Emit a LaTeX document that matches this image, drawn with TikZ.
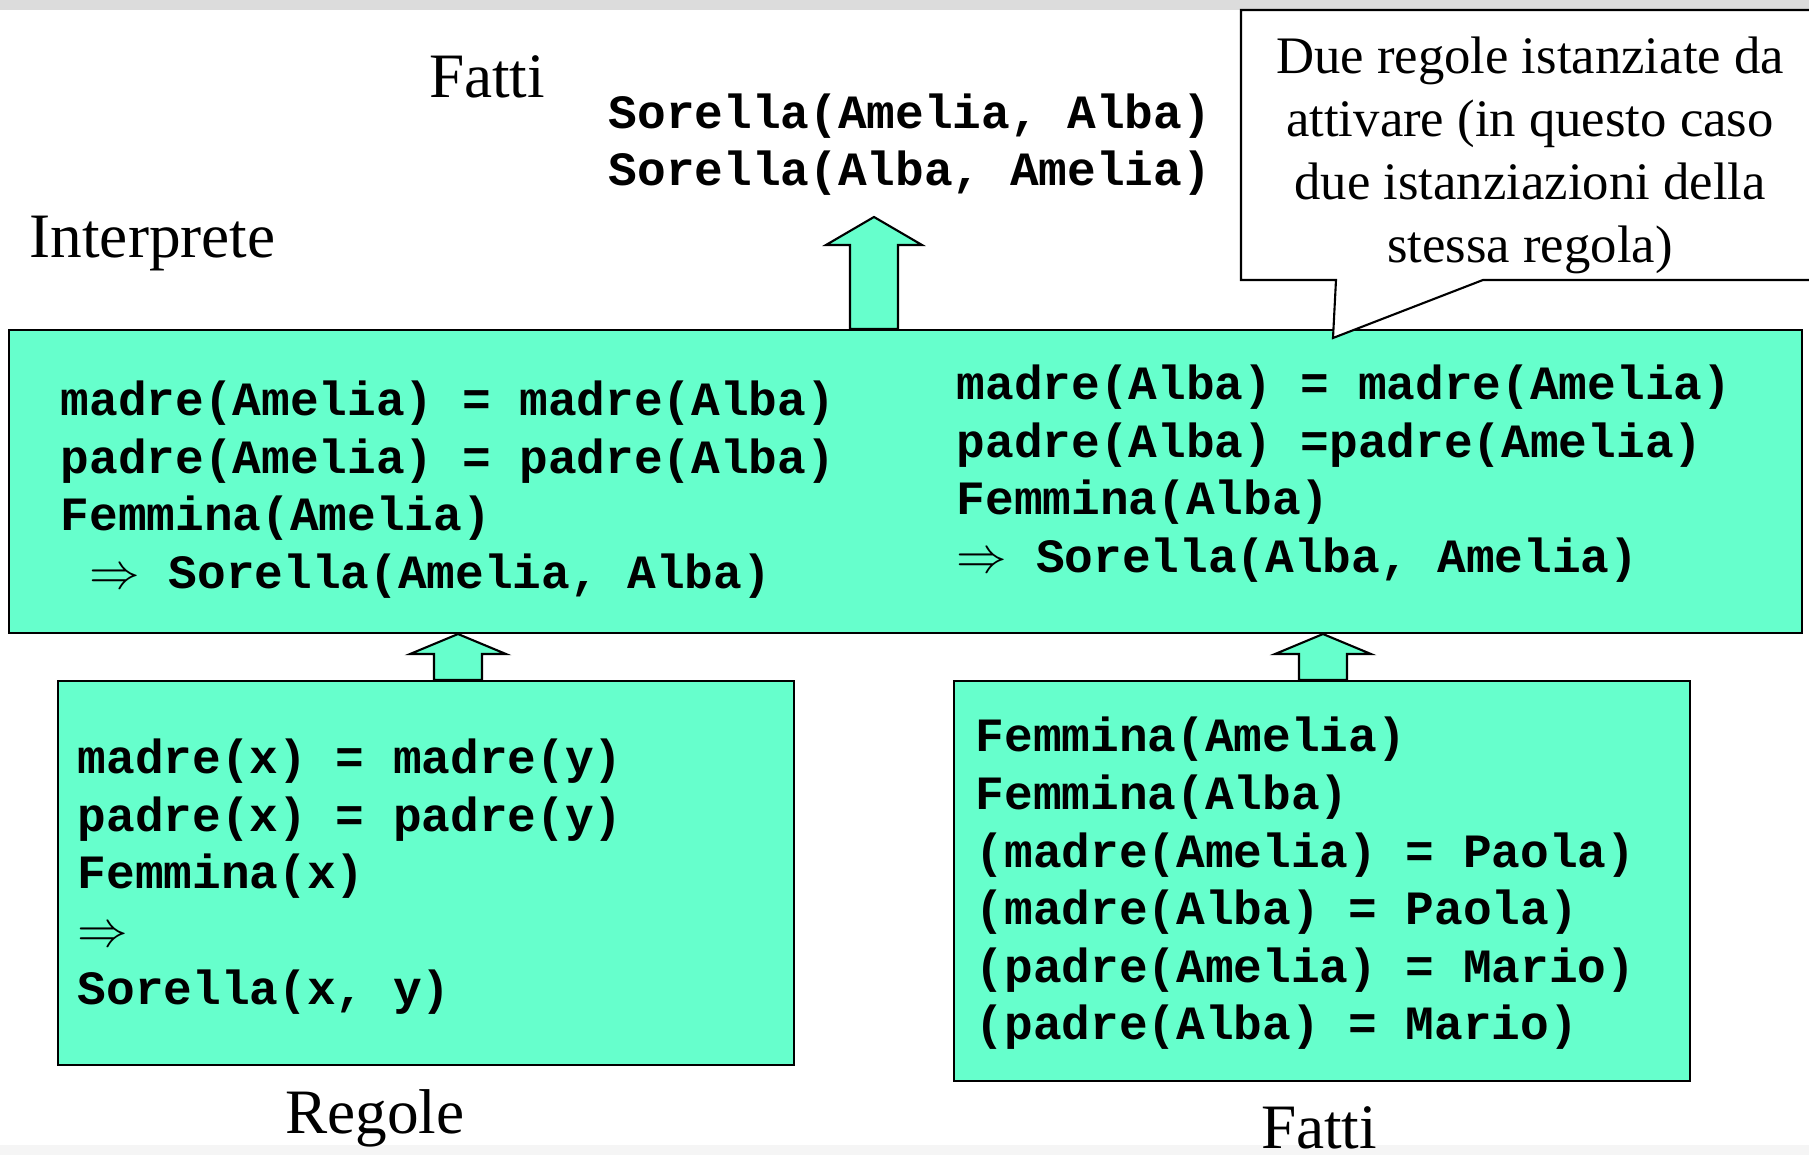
\documentclass[tikz,border=0pt]{standalone}
\usepackage{fontspec}
\setmainfont{Liberation Serif}
\setmonofont{Liberation Mono}
\usepackage{xcolor}
\usetikzlibrary{calc}

\definecolor{acqua}{RGB}{102,255,204}
\definecolor{barra}{RGB}{220,220,220}
\definecolor{barrachiara}{RGB}{245,245,245}

%% block arrow pointing up: foot, tip, head length
\newcommand{\frecciasu}[3]{%
  \draw[freccia] let \p1=(#1), \p2=(#2) in
    ({\x1-0.24cm},\y1) -- ({\x1-0.24cm},{\y2-#3}) -- ({\x1-0.48cm},{\y2-#3})
    -- (\x2,\y2) -- ({\x1+0.48cm},{\y2-#3}) -- ({\x1+0.24cm},{\y2-#3})
    -- ({\x1+0.24cm},\y1) -- cycle;}

\begin{document}
\begin{tikzpicture}[
  titolo/.style={font=\fontsize{18}{18}\selectfont, inner sep=0pt},
  nota/.style={font=\fontsize{15}{18}\selectfont, align=center, inner sep=0pt},
  codice/.style={font=\fontsize{13.6}{16.4}\selectfont\ttfamily\bfseries,
    align=left, inner sep=0pt, anchor=west},
  scatola/.style={draw, line width=0.6pt, fill=acqua},
  freccia/.style={draw, line width=0.6pt, fill=acqua, line join=miter},
]
\useasboundingbox (0,0) rectangle (18.09,11.55);
\fill[barra] (0,11.45) rectangle (18.09,11.55);
\fill[barrachiara] (0,0) rectangle (18.09,0.10);

%% Interpreter box with the two instantiated rules
\node[scatola, minimum width=17.93cm, minimum height=3.03cm] (interp)
    at (9.055,6.735) {};
\node[codice] (istsx) at (0.60,6.655)
    {madre(Amelia) = madre(Alba)\\
     padre(Amelia) = padre(Alba)\\
     Femmina(Amelia)\\
     \ $\Rightarrow$ Sorella(Amelia, Alba)};
\node[codice] (istdx) at (9.56,6.815)
    {madre(Alba) = madre(Amelia)\\
     padre(Alba) =padre(Amelia)\\
     Femmina(Alba)\\
     $\Rightarrow$ Sorella(Alba, Amelia)};

%% Rules and facts
\node[scatola, minimum width=7.36cm, minimum height=3.84cm] (regole)
    at (4.26,2.82) {};
\node[codice] (testoregole) at (0.77,2.785)
    {madre(x) = madre(y)\\
     padre(x) = padre(y)\\
     Femmina(x)\\
     $\Rightarrow$\\
     Sorella(x, y)};
\node[scatola, minimum width=7.36cm, minimum height=4.00cm] (fatti)
    at (13.22,2.74) {};
\node[codice] (testofatti) at (9.75,2.715)
    {Femmina(Amelia)\\
     Femmina(Alba)\\
     (madre(Amelia) = Paola)\\
     (madre(Alba) = Paola)\\
     (padre(Amelia) = Mario)\\
     (padre(Alba) = Mario)};

%% New facts produced
\node[codice] (nuovi) at (6.08,10.105)
    {Sorella(Amelia, Alba)\\
     Sorella(Alba, Amelia)};

%% Labels
\node[titolo, anchor=base] (lfatti) at (4.87,10.57) {Fatti};
\node[titolo, anchor=base west] (linterp) at (0.29,8.97) {Interprete};
\node[titolo, anchor=base] (lregole) at (3.75,0.21) {Regole};
\node[titolo, anchor=base] (lfatti2) at (13.19,0.06) {Fatti};

%% Block arrows
\coordinate (xout) at (8.74,0);
\coordinate (xreg) at (4.58,0);
\coordinate (xfat) at (13.23,0);
\coordinate (puntaout) at (8.74,9.38);
\frecciasu{xout |- interp.north}{puntaout}{0.28cm}
\frecciasu{xreg |- regole.north}{xreg |- interp.south}{0.20cm}
\frecciasu{xfat |- fatti.north}{xfat |- interp.south}{0.20cm}

%% Callout
\coordinate (punta) at (13.33,8.17);
\draw[line width=0.6pt, fill=white] (12.41,11.45) -- (18.3,11.45) -- (18.3,8.75)
    -- (14.83,8.75) -- (punta) -- (13.36,8.75) -- (12.41,8.75) -- cycle;
\node[nota] (commento) at (15.30,9.995)
    {Due regole istanziate da\\
     attivare (in questo caso\\
     due istanziazioni della\\
     stessa regola)};
\end{tikzpicture}
\end{document}
